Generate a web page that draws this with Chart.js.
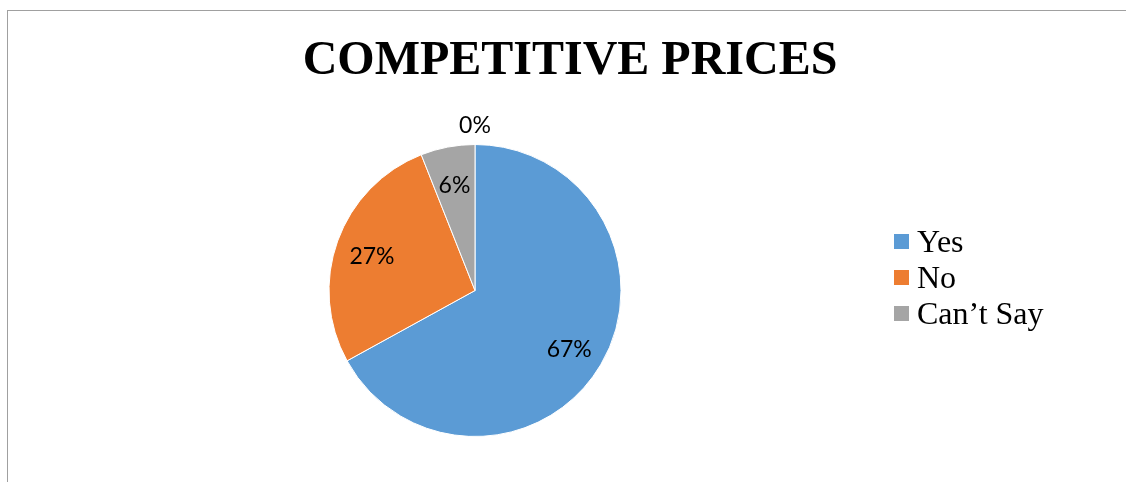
<!DOCTYPE html>
<html>
<head>
<meta charset="utf-8">
<script src="https://cdn.jsdelivr.net/npm/chart.js@4/dist/chart.umd.min.js"></script>
<style>
  html, body { margin: 0; padding: 0; background: #fff; overflow: hidden; width: 1126px; height: 482px; }
  #frame { position: absolute; left: 7px; top: 10px; width: 1300px; height: 600px; border-left: 1px solid #a0a0a0; border-top: 1px solid #a0a0a0; box-sizing: border-box; }
  #wrap { position: absolute; left: 0; top: 0; width: 1126px; height: 482px; }
</style>
</head>
<body>
<div id="frame"></div>
<div id="wrap"><canvas id="c" width="1126" height="482"></canvas></div>
<script>
const titleText = 'COMPETITIVE PRICES';
const categories = ['Yes', 'No', 'Can\u2019t Say', ''];
const values = [67, 27, 6, 0];
const colors = ['#5B9BD5', '#ED7D31', '#A5A5A5', '#FFC000'];
const legendCount = 3;

const titlePlugin = {
  id: 'titleDraw',
  afterDraw(chart) {
    const ctx = chart.ctx;
    ctx.save();
    ctx.font = 'bold 48px "Liberation Serif", "Times New Roman", serif';
    ctx.fillStyle = '#000';
    ctx.textAlign = 'center';
    ctx.textBaseline = 'alphabetic';
    ctx.fillText(titleText, 570, 74);
    ctx.restore();
  }
};

const labelPlugin = {
  id: 'pctLabels',
  afterDatasetsDraw(chart) {
    const ctx = chart.ctx;
    const meta = chart.getDatasetMeta(0);
    const ds = chart.data.datasets[0];
    ctx.save();
    ctx.font = '23px Lato, "Open Sans", sans-serif';
    ctx.fillStyle = '#000';
    ctx.textAlign = 'center';
    ctx.textBaseline = 'middle';
    meta.data.forEach((arc, i) => {
      const p = arc.getProps(['x', 'y', 'startAngle', 'endAngle', 'outerRadius'], true);
      const mid = (p.startAngle + p.endAngle) / 2;
      const v = ds.data[i];
      const r = v === 0 ? p.outerRadius + 22 : p.outerRadius * 0.75;
      const x = p.x + Math.cos(mid) * r;
      const y = p.y + Math.sin(mid) * r + 3;
      ctx.fillText(v + '%', x, y);
    });
    ctx.restore();
  }
};

const legendPlugin = {
  id: 'customLegend',
  afterDraw(chart) {
    const ctx = chart.ctx;
    const ds = chart.data.datasets[0];
    ctx.save();
    ctx.font = '32px "Liberation Serif", "Times New Roman", serif';
    ctx.textBaseline = 'alphabetic';
    ctx.textAlign = 'left';
    const x0 = 894, y0 = 252, step = 36, box = 15;
    for (let i = 0; i < legendCount; i++) {
      const base = y0 + i * step;
      ctx.fillStyle = ds.backgroundColor[i];
      ctx.fillRect(x0, base - 18, box, box);
      ctx.fillStyle = '#000';
      ctx.fillText(chart.data.labels[i], x0 + 23, base);
    }
    ctx.restore();
  }
};

new Chart(document.getElementById('c'), {
  type: 'pie',
  data: {
    labels: categories,
    datasets: [{
      data: values,
      backgroundColor: colors,
      borderColor: '#ffffff',
      borderWidth: 1
    }]
  },
  options: {
    responsive: false,
    animation: false,
    layout: { padding: { left: 0, right: 176, top: 144, bottom: 45 } },
    plugins: {
      legend: { display: false },
      title: { display: false },
      tooltip: { enabled: false }
    }
  },
  plugins: [titlePlugin, labelPlugin, legendPlugin]
});
</script>
</body>
</html>
